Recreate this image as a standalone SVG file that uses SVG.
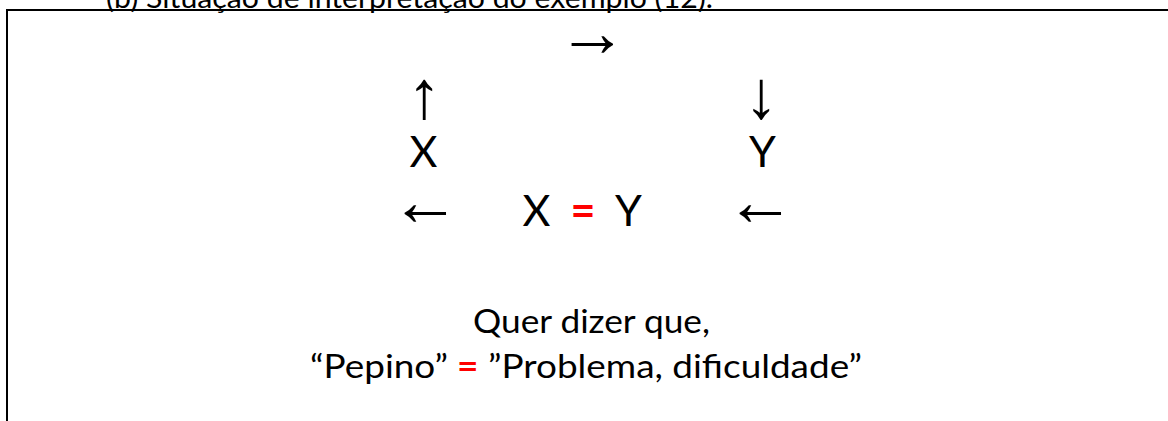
<svg xmlns="http://www.w3.org/2000/svg" width="1168" height="421" viewBox="0 0 1168 421">
<style>
.t{font-family:Lato,"Liberation Sans",sans-serif;fill:#000}
.big{font-size:43px}
.mid{font-size:32px}
.arr{font-family:"Liberation Sans","DejaVu Sans",sans-serif;fill:#000}
.h{font-size:70px}
.v{font-size:68px}
.eq{fill:#ff0000;font-weight:bold}
</style>
<rect x="7" y="10" width="1300" height="600" fill="none" stroke="#000" stroke-width="2"/>
<text class="t" x="106" y="8" font-size="29" textLength="607" lengthAdjust="spacingAndGlyphs">(b) Situação de interpretação do exemplo (12).</text>
<g id="connectors">
<text class="arr h" x="592.5" y="56" text-anchor="middle">→</text>
<text class="arr v" x="424" y="118" text-anchor="middle">↑</text>
<text class="arr v" x="761" y="118" text-anchor="middle">↓</text>
<text class="arr h" x="425.5" y="225" text-anchor="middle">←</text>
<text class="arr h" x="760.5" y="225" text-anchor="middle">←</text>
</g>
<g id="nodeX1"><text class="t big" x="423.5" y="167" text-anchor="middle">X</text></g>
<g id="nodeY1"><text class="t big" x="762.5" y="167" text-anchor="middle">Y</text></g>
<g id="nodeEq">
<text class="t big" x="536.5" y="226" text-anchor="middle">X</text>
<text class="t big eq" x="583" y="226" text-anchor="middle">=</text>
<text class="t big" x="628.5" y="226" text-anchor="middle">Y</text>
</g>
<g id="caption">
<text class="t mid" x="473" y="333" textLength="237" lengthAdjust="spacingAndGlyphs">Quer dizer que,</text>
<text class="t mid" x="310" y="378" textLength="552" lengthAdjust="spacingAndGlyphs">“Pepino” <tspan class="eq">=</tspan> ”Problema, dificuldade”</text>
</g>
</svg>
